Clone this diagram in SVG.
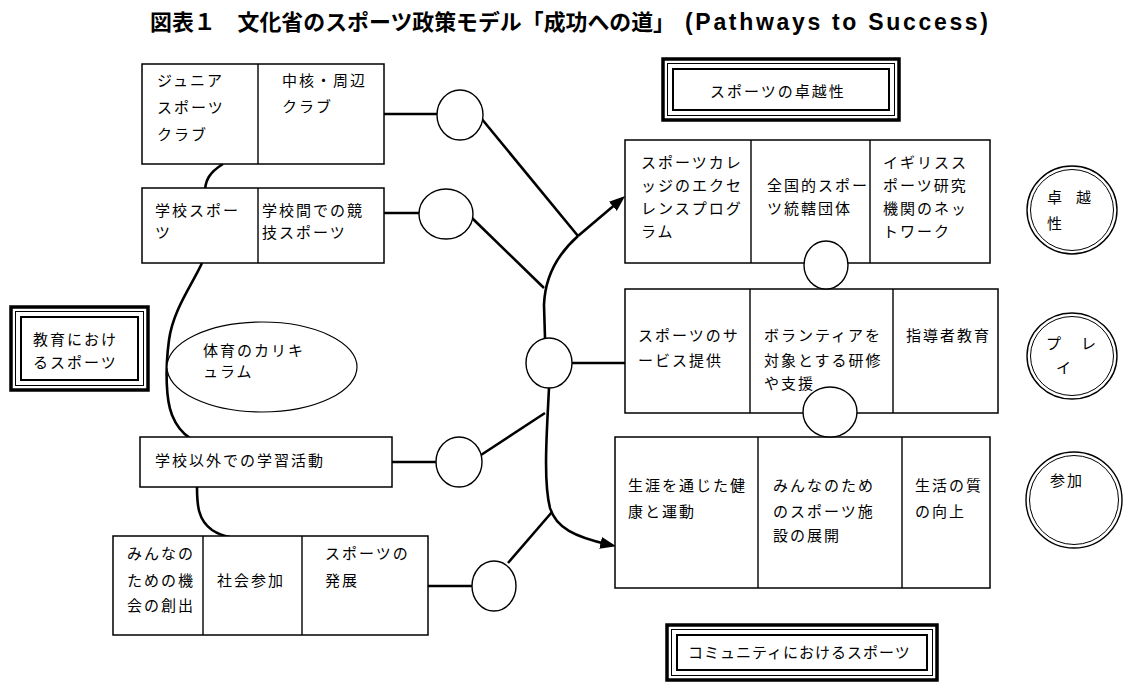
<svg xmlns="http://www.w3.org/2000/svg" width="1138" height="688" viewBox="0 0 1138 688">
<defs>
<style>
.box{fill:#fff;stroke:#000;stroke-width:1.5}
.dv{stroke:#000;stroke-width:1.4}
.circ{fill:#fff;stroke:#000;stroke-width:1.4}
.con{fill:none;stroke:#000;stroke-width:2.6;stroke-linecap:butt}
.fo{fill:#fff;stroke:#000;stroke-width:3.5}
.fm{fill:none;stroke:#000;stroke-width:1}
.fi{fill:none;stroke:#000;stroke-width:2}
.t{font-family:"Noto Sans CJK JP",sans-serif;font-size:15px;letter-spacing:2px;fill:#000}
.ttl{font-family:"Noto Sans CJK JP",sans-serif;font-size:22px;font-weight:bold;fill:#000}
.ttl2{font-family:"Liberation Sans",Arial,sans-serif;font-size:23px;font-weight:bold;fill:#000}
</style>
<marker id="arr" viewBox="0 0 16 12" refX="8" refY="6" markerWidth="16" markerHeight="12" markerUnits="userSpaceOnUse" orient="auto">
<path d="M0,0 L16,6 L0,12 z" fill="#000"/>
</marker>
</defs>
<rect width="1138" height="688" fill="#fff"/>

<g id="title">
<text class="ttl" x="150" y="30" textLength="525" lengthAdjust="spacingAndGlyphs">図表１　文化省のスポーツ政策モデル「成功への道」</text>
<text class="ttl2" x="685" y="30" textLength="303" lengthAdjust="spacing">(Pathways to Success)</text>
</g>

<g id="connectors">
<path class="con" d="M384,114 H437"/>
<path class="con" d="M384,213 H419"/>
<path class="con" d="M392,462 H436"/>
<path class="con" d="M428,586 H472"/>
<path class="con" d="M481,118 L578,236"/>
<path class="con" d="M472,218 L544,288"/>
<path class="con" d="M481,455 L545,413"/>
<path class="con" d="M508,563 L552,512"/>
<path class="con" d="M572,363 H625"/>
<path class="con" d="M578,236 L619,201.2" marker-end="url(#arr)"/>
<path class="con" d="M578,236 C560,252 545,275 544,305 L545,338"/>
<path class="con" d="M549,388 C547,430 543,480 550,508 C556,528 575,537 608.4,544.6" marker-end="url(#arr)"/>
<path class="con" d="M223,164 C210,172 204,180 205,196"/>
<path class="con" d="M202,263 C192,285 173,310 169,340 C165,370 166,400 172,415 C176,425 182,433 190,438"/>
<path class="con" d="M197,487 C197,505 198,520 212,530 C218,534 224,536 230,537"/>
</g>

<g id="node-junior-clubs">
<rect class="box" x="142" y="64" width="242" height="100"/>
<line class="dv" x1="258" y1="64" x2="258" y2="164"/>
<text class="t" x="157" y="86">ジュニア</text>
<text class="t" x="157" y="113">スポーツ</text>
<text class="t" x="157" y="140">クラブ</text>
<text class="t" x="282" y="86">中核・周辺</text>
<text class="t" x="282" y="112">クラブ</text>
</g>

<g id="node-school-sport">
<rect class="box" x="142" y="188" width="242" height="75"/>
<line class="dv" x1="258" y1="188" x2="258" y2="263"/>
<text class="t" x="155" y="215.5">学校スポー</text>
<text class="t" x="155" y="238">ツ</text>
<text class="t" x="262" y="215.5">学校間での競</text>
<text class="t" x="262" y="238">技スポーツ</text>
</g>

<g id="node-sport-in-education">
<rect class="fo" x="11" y="307" width="137" height="83"/>
<rect class="fm" x="15.5" y="311.5" width="128" height="74"/>
<rect class="fi" x="21" y="317" width="117" height="63"/>
<text class="t" x="33" y="345">教育におけ</text>
<text class="t" x="33" y="368">るスポーツ</text>
</g>

<g id="node-pe-curriculum">
<ellipse class="circ" cx="262" cy="367" rx="95" ry="45" style="stroke-width:1.2"/>
<text class="t" x="203" y="356">体育のカリキ</text>
<text class="t" x="203" y="377">ュラム</text>
</g>

<g id="node-out-of-school">
<rect class="box" x="140" y="437" width="252" height="50"/>
<text class="t" x="155" y="465.5">学校以外での学習活動</text>
</g>

<g id="node-community-row">
<rect class="box" x="113" y="536" width="315" height="99"/>
<line class="dv" x1="203" y1="536" x2="203" y2="635"/>
<line class="dv" x1="302" y1="536" x2="302" y2="635"/>
<text class="t" x="127" y="558.5">みんなの</text>
<text class="t" x="127" y="585.5">ための機</text>
<text class="t" x="127" y="610.5">会の創出</text>
<text class="t" x="217" y="585.5">社会参加</text>
<text class="t" x="325" y="558.5">スポーツの</text>
<text class="t" x="325" y="585.5">発展</text>
</g>

<g id="node-link-circles">
<ellipse class="circ" cx="460" cy="115" rx="23" ry="25"/>
<ellipse class="circ" cx="446" cy="214" rx="27" ry="25"/>
<ellipse class="circ" cx="459" cy="462" rx="23" ry="25"/>
<ellipse class="circ" cx="494" cy="586" rx="22" ry="25"/>
<ellipse class="circ" cx="549" cy="363" rx="23" ry="25"/>
</g>

<g id="node-sport-excellence">
<rect class="fo" x="663" y="59" width="236" height="61"/>
<rect class="fm" x="667.5" y="63.5" width="227" height="52"/>
<rect class="fi" x="673" y="69" width="216" height="41"/>
<text class="t" x="710" y="96.5">スポーツの卓越性</text>
</g>

<g id="node-excellence-row">
<rect class="box" x="625" y="140" width="365" height="123"/>
<line class="dv" x1="751" y1="140" x2="751" y2="263"/>
<line class="dv" x1="870" y1="140" x2="870" y2="263"/>
<text class="t" x="641" y="167.5">スポーツカレ</text>
<text class="t" x="641" y="190.5">ッジのエクセ</text>
<text class="t" x="641" y="213.5">レンスプログ</text>
<text class="t" x="641" y="236.5">ラム</text>
<text class="t" x="767" y="190.5">全国的スポー</text>
<text class="t" x="767" y="213.5">ツ統轄団体</text>
<text class="t" x="883" y="167.5">イギリスス</text>
<text class="t" x="883" y="190.5">ポーツ研究</text>
<text class="t" x="883" y="213.5">機関のネッ</text>
<text class="t" x="883" y="236.5">トワーク</text>
</g>

<g id="node-play-row">
<rect class="box" x="625" y="289" width="373" height="124"/>
<line class="dv" x1="750" y1="289" x2="750" y2="413"/>
<line class="dv" x1="893" y1="289" x2="893" y2="413"/>
<text class="t" x="638" y="340.5">スポーツのサ</text>
<text class="t" x="638" y="365.5">ービス提供</text>
<text class="t" x="764" y="340.5">ボランティアを</text>
<text class="t" x="764" y="365.5">対象とする研修</text>
<text class="t" x="764" y="388.5">や支援</text>
<text class="t" x="906" y="340.5">指導者教育</text>
</g>

<g id="node-participation-row">
<rect class="box" x="615" y="437" width="375" height="151"/>
<line class="dv" x1="758" y1="437" x2="758" y2="588"/>
<line class="dv" x1="902" y1="437" x2="902" y2="588"/>
<text class="t" x="628" y="490.5">生涯を通じた健</text>
<text class="t" x="628" y="516.5">康と運動</text>
<text class="t" x="773" y="490.5">みんなのため</text>
<text class="t" x="773" y="516.5">のスポーツ施</text>
<text class="t" x="773" y="540.5">設の展開</text>
<text class="t" x="915" y="490.5">生活の質</text>
<text class="t" x="915" y="516.5">の向上</text>
</g>

<g id="node-row-circles">
<ellipse class="circ" cx="826" cy="265" rx="22" ry="24"/>
<ellipse class="circ" cx="830" cy="412" rx="27" ry="25"/>
</g>

<g id="node-excellence">
<ellipse class="circ" cx="1072" cy="210" rx="45" ry="44"/>
<ellipse class="circ" cx="1072" cy="210" rx="41.5" ry="40.5" style="stroke-width:1"/>
<text class="t" x="1047" y="203" style="letter-spacing:14px">卓越</text>
<text class="t" x="1047" y="229">性</text>
</g>

<g id="node-play">
<ellipse class="circ" cx="1072" cy="356" rx="45" ry="43"/>
<ellipse class="circ" cx="1072" cy="356" rx="41.5" ry="39.5" style="stroke-width:1"/>
<text class="t" x="1046" y="349" style="letter-spacing:20px">プレ</text>
<text class="t" x="1056" y="373">イ</text>
</g>

<g id="node-participation">
<ellipse class="circ" cx="1074" cy="500" rx="48" ry="48"/>
<ellipse class="circ" cx="1074" cy="500" rx="44.5" ry="44.5" style="stroke-width:1"/>
<text class="t" x="1050" y="486">参加</text>
</g>

<g id="node-sport-in-community">
<rect class="fo" x="667" y="625" width="270" height="55"/>
<rect class="fm" x="671.5" y="629.5" width="261" height="46"/>
<rect class="fi" x="677" y="635" width="250" height="35"/>
<text class="t" x="688" y="658" style="letter-spacing:1px">コミュニティにおけるスポーツ</text>
</g>
</svg>
